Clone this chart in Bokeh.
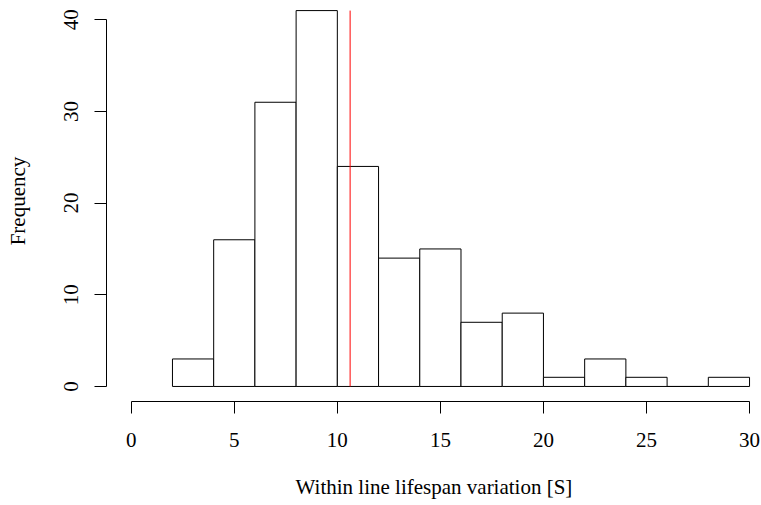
from bokeh.plotting import figure
from bokeh.models import Range1d, FixedTicker
from bokeh.embed import file_html
from bokeh.resources import INLINE

# Histogram data (bin edges of width 2, counts per bin)
bin_left = [2, 4, 6, 8, 10, 12, 14, 16, 18, 20, 22, 24, 26, 28]
bin_right = [4, 6, 8, 10, 12, 14, 16, 18, 20, 22, 24, 26, 28, 30]
counts = [3, 16, 31, 41, 24, 14, 15, 7, 8, 1, 3, 1, 0, 1]
mean_value = 10.62
x_ticks = [0, 5, 10, 15, 20, 25, 30]
y_ticks = [0, 10, 20, 30, 40]
x_title = "Within line lifespan variation [S]"
y_title = "Frequency"

FONT = "Liberation Serif"
FS = "21px"

p = figure(width=761, height=505, output_backend="svg", toolbar_location=None,
           x_range=Range1d(-1.2, 30.58), y_range=Range1d(-1.64, 42.1),
           min_border_left=106, min_border_right=0, min_border_top=0,
           min_border_bottom=104)
p.outline_line_color = None
p.xgrid.visible = False
p.ygrid.visible = False
p.background_fill_color = "white"
p.border_fill_color = "white"

p.quad(left=bin_left, right=bin_right, bottom=0, top=counts,
       fill_color="white", line_color="black", line_width=1)

p.segment(x0=[mean_value], y0=[0], x1=[mean_value], y1=[max(counts)],
          line_color="red", line_width=1)

for ax in (p.xaxis[0], p.yaxis[0]):
    ax.major_tick_in = 0
    ax.major_tick_out = 12
    ax.minor_tick_line_color = None
    ax.axis_line_color = "black"
    ax.major_tick_line_color = "black"
    ax.major_label_text_font = FONT
    ax.major_label_text_font_size = FS
    ax.major_label_text_color = "black"
    ax.axis_label_text_font = FONT
    ax.axis_label_text_font_size = FS
    ax.axis_label_text_font_style = "normal"
    ax.axis_label_text_color = "black"

p.xaxis[0].ticker = FixedTicker(ticks=x_ticks)
p.xaxis[0].bounds = (x_ticks[0], x_ticks[-1])
p.xaxis[0].major_label_standoff = 19
p.xaxis[0].axis_label = x_title
p.xaxis[0].axis_label_standoff = 25

p.yaxis[0].ticker = FixedTicker(ticks=y_ticks)
p.yaxis[0].bounds = (y_ticks[0], y_ticks[-1])
p.yaxis[0].major_label_orientation = "vertical"
p.yaxis[0].major_label_standoff = 16
p.yaxis[0].axis_label = y_title
p.yaxis[0].axis_label_standoff = 32

open("out.html", "w").write(file_html(p, INLINE))
